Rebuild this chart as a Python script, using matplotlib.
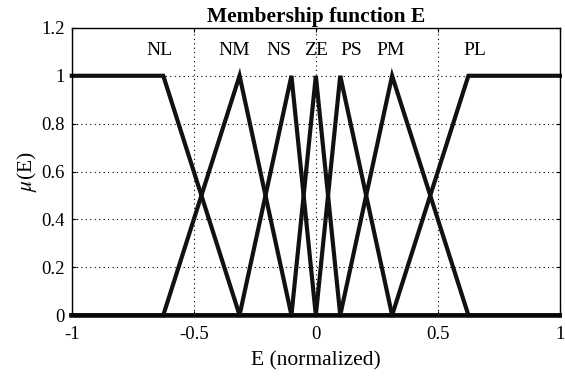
import matplotlib
matplotlib.use("Agg")
import matplotlib.pyplot as plt

names = ["NL", "NM", "NS", "ZE", "PS", "PM", "PL"]
xs = [
    [-1.0, -0.625, -0.3125, 1.0],
    [-1.0, -0.625, -0.3125, -0.1, 1.0],
    [-1.0, -0.3125, -0.1, 0.0, 1.0],
    [-1.0, -0.1, 0.0, 0.1, 1.0],
    [-1.0, 0.0, 0.1, 0.3125, 1.0],
    [-1.0, 0.1, 0.3125, 0.625, 1.0],
    [-1.0, 0.3125, 0.625, 1.0],
]
ys = [
    [1, 1, 0, 0],
    [0, 0, 1, 0, 0],
    [0, 0, 1, 0, 0],
    [0, 0, 1, 0, 0],
    [0, 0, 1, 0, 0],
    [0, 0, 1, 0, 0],
    [0, 0, 1, 1],
]
label_x = [-0.64, -0.335, -0.15, 0.0, 0.145, 0.307, 0.65]
label_y = 1.105

plt.rcParams['font.family'] = ['Liberation Serif', 'DejaVu Serif']
plt.rcParams['mathtext.fontset'] = 'stix'

fig = plt.figure(figsize=(5.65, 3.77), dpi=100)
ax = fig.add_axes([0.127, 0.164, 0.864, 0.762])

for x, y in zip(xs, ys):
    ax.plot(x, y, color='#111111', lw=3.0, solid_joinstyle='miter', clip_on=False)

for n, lx in zip(names, label_x):
    ax.text(lx, label_y, n, ha='center', va='center', fontsize=14)

ax.set_xlim(-1, 1)
ax.set_ylim(0, 1.2)
ax.set_xticks([-1, -0.5, 0, 0.5, 1])
ax.set_xticklabels(['-1', '-0.5', '0', '0.5', '1'])
ax.set_yticks([0, 0.2, 0.4, 0.6, 0.8, 1, 1.2])
ax.set_yticklabels(['0', '0.2', '0.4', '0.6', '0.8', '1', '1.2'])
ax.grid(True, color='black', linestyle=(0, (1, 3)), lw=0.8)
ax.tick_params(direction='in', length=3, width=0.8, labelsize=13.5,
               top=True, right=True)
ax.tick_params(axis='x', pad=8)
ax.tick_params(axis='y', pad=5)
for s in ax.spines.values():
    s.set_linewidth(1.0)
    s.set_color('black')

ax.set_title('Membership function E', fontsize=15.5, fontweight='bold', pad=4)
ax.set_xlabel('E (normalized)', fontsize=15.5, labelpad=6)
ax.set_ylabel(r'$\mu$(E)', fontsize=15.5, labelpad=2)

fig.savefig('out.png', dpi=100)
